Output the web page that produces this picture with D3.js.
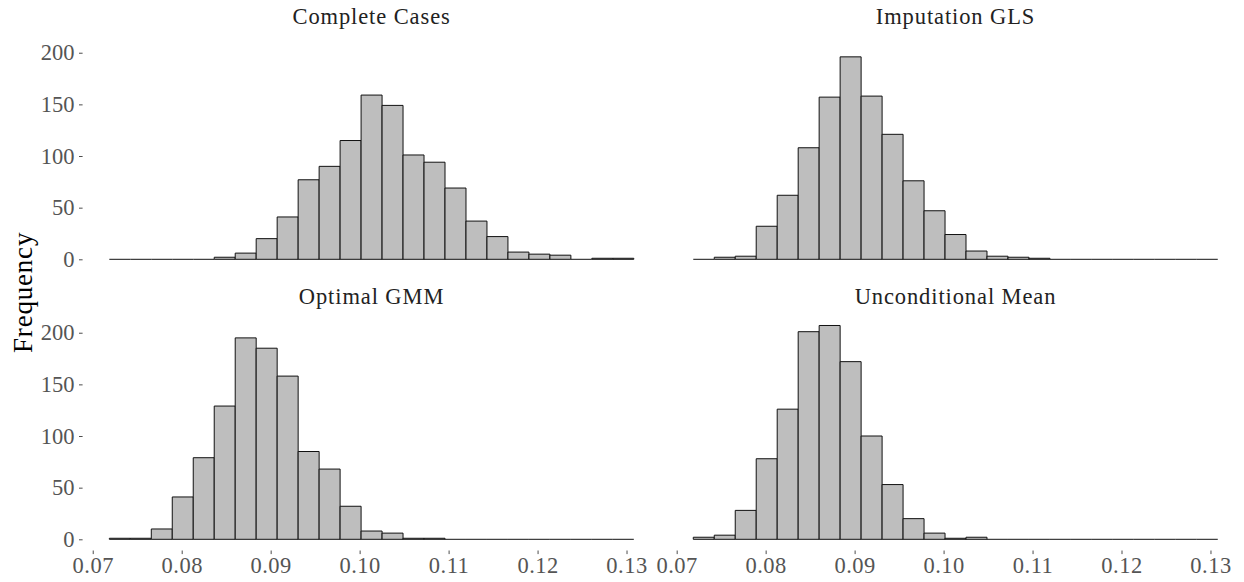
<!DOCTYPE html>
<html>
<head>
<meta charset="utf-8">
<script src="https://cdn.jsdelivr.net/npm/d3@7"></script>
<style>
  html, body { margin: 0; padding: 0; background: #fff; }
  svg { display: block; }
  text { font-family: "Liberation Serif", "DejaVu Serif", serif; }
</style>
</head>
<body>
<svg id="chart" width="1244" height="582"></svg>
<script>
// ---- data ----
const panelTitles = ["Complete Cases", "Imputation GLS", "Optimal GMM", "Unconditional Mean"];
const binStart = 0.071865;
const binWidth = 0.0023582;
const binCount = 25;
const countsCompleteCases = [0,0,0,0,0,2,6,20,41,77,90,115,159,149,101,94,69,37,22,7,5,4,0,1,1];
const countsImputationGLS = [0,2,3,32,62,108,157,196,158,121,76,47,24,8,3,2,1,0,0,0,0,0,0,0,0];
const countsOptimalGMM = [1,1,10,41,79,129,195,185,158,85,68,32,8,6,1,1,0,0,0,0,0,0,0,0,0];
const countsUncondMean = [2,4,28,78,126,201,207,172,100,53,20,6,1,2,0,0,0,0,0,0,0,0,0,0,0];
const xTicks = [0.07, 0.08, 0.09, 0.10, 0.11, 0.12, 0.13];
const yTicks = [0, 50, 100, 150, 200];
const yLabel = "Frequency";

const panelCounts = [countsCompleteCases, countsImputationGLS, countsOptimalGMM, countsUncondMean];

// ---- layout ----
const W = 1244, H = 582;
const left = 83.1, right = 0, gapX = 7;
const pw = (W - left - right - gapX) / 2;
const rows = [{top: 34.8, bottom: 270}, {top: 314.8, bottom: 550}];

const svg = d3.select("#chart");

const edges = d3.range(binCount + 1).map(i => binStart + i * binWidth);
const xMin = edges[0], xMax = edges[binCount];
const xPad = (xMax - xMin) * 0.05;
const yMaxData = d3.max(panelCounts, c => d3.max(c));
const yPad = yMaxData * 0.05;

panelTitles.forEach((title, p) => {
  const col = p % 2, row = Math.floor(p / 2);
  const x0 = left + col * (pw + gapX);
  const r = rows[row];
  const x = d3.scaleLinear().domain([xMin - xPad, xMax + xPad]).range([x0, x0 + pw]);
  const y = d3.scaleLinear().domain([-yPad, yMaxData + yPad]).range([r.bottom, r.top]);
  const g = svg.append("g");

  const bins = panelCounts[p].map((c, i) => ({x0: edges[i], x1: edges[i + 1], c}));
  g.selectAll("path.bar").data(bins).enter().append("path")
    .attr("class", "bar")
    .attr("d", d => {
      const a = x(d.x0), b = x(d.x1), y0 = y(0), y1 = y(d.c);
      return d.c > 0 ? `M${a},${y0}V${y1}H${b}V${y0}Z` : `M${a},${y0}H${b}`;
    })
    .attr("fill", "#BEBEBE")
    .attr("stroke", "#111")
    .attr("stroke-width", 1);

  // strip title
  g.append("text")
    .attr("x", x0 + pw / 2)
    .attr("y", r.top - 11)
    .attr("text-anchor", "middle")
    .attr("font-size", 22.5)
    .attr("letter-spacing", 0.9)
    .attr("fill", "#222")
    .text(title);

  // y axis on left column
  if (col === 0) {
    const ya = d3.axisLeft(y).tickValues(yTicks).tickSize(3.6).tickPadding(4.5).tickFormat(d3.format("d"));
    const ag = g.append("g").attr("transform", `translate(${x0 - 0.5},0)`).call(ya);
    ag.select(".domain").remove();
    ag.selectAll("line").attr("stroke", "#4D4D4D").attr("stroke-width", 1);
    ag.selectAll("text").attr("fill", "#555").attr("font-size", 22.5)
      .style("font-family", '"Liberation Serif", serif');
  }
  // x axis on bottom row
  if (row === 1) {
    const xa = d3.axisBottom(x).tickValues(xTicks).tickSize(3.6).tickPadding(3).tickFormat(d3.format(".2f"));
    const ag = g.append("g").attr("transform", `translate(0,${r.bottom + 0.5})`).call(xa);
    ag.select(".domain").remove();
    ag.selectAll("line").attr("stroke", "#4D4D4D").attr("stroke-width", 1);
    ag.selectAll("text").attr("fill", "#555").attr("font-size", 22.5)
      .attr("letter-spacing", 0.5)
      .style("font-family", '"Liberation Serif", serif');
  }
});

// y axis title
svg.append("text")
  .attr("transform", `translate(32,${(rows[0].top + rows[1].bottom) / 2}) rotate(-90)`)
  .attr("text-anchor", "middle")
  .attr("font-size", 27)
  .attr("letter-spacing", 0.8)
  .attr("fill", "#000")
  .text(yLabel);
</script>
</body>
</html>
